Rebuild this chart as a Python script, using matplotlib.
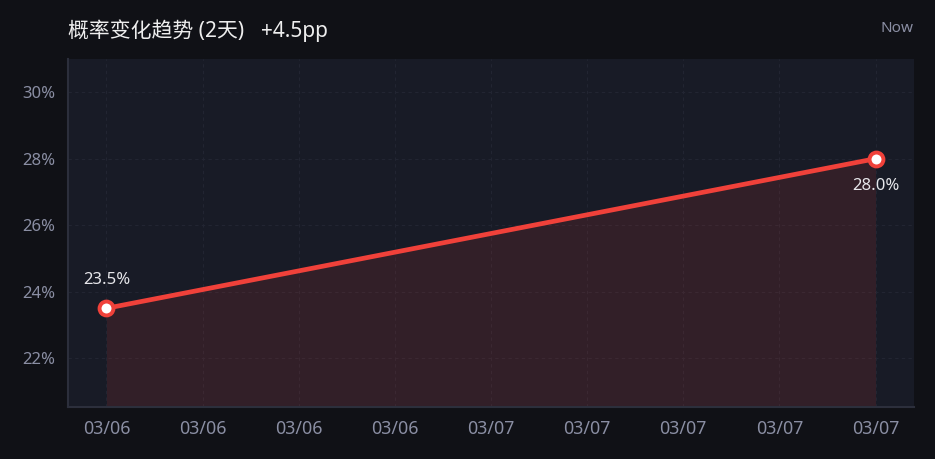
import matplotlib.pyplot as plt

plt.rcParams['font.family'] = ['Noto Sans', 'Noto Sans CJK SC', 'DejaVu Sans']

# data
x_labels = ["03/06", "03/06", "03/06", "03/06", "03/07", "03/07", "03/07", "03/07", "03/07"]
point_idx = [0, 8]
prob = [23.5, 28.0]
y_ticks = [22, 24, 26, 28, 30]

bg = "#101116"
panel = "#181b26"
red = "#f0413a"
grey = "#8a8ea3"


def main():
    fig = plt.figure(figsize=(9.35, 4.59), dpi=100, facecolor=bg)
    ax = fig.add_axes([68 / 935, 1 - 407 / 459, (914 - 68) / 935, (407 - 59) / 459])
    ax.set_facecolor(panel)

    ax.fill_between(point_idx, prob, 20.5, color=red, alpha=0.12, linewidth=0)
    ax.plot(point_idx, prob, color=red, linewidth=3.4, solid_capstyle="round",
            marker="o", markersize=10, markerfacecolor="white",
            markeredgecolor=red, markeredgewidth=2.8, zorder=5)

    ax.annotate(f"{prob[0]:.1f}%", (point_idx[0], prob[0]), xytext=(0, 14.5),
                textcoords="offset points", ha="center", va="bottom",
                color="#e6e6ea", fontsize=12)
    ax.annotate(f"{prob[1]:.1f}%", (point_idx[1], prob[1]), xytext=(0, -14),
                textcoords="offset points", ha="center", va="top",
                color="#e6e6ea", fontsize=12)

    ax.set_xlim(-0.4, 8.4)
    ax.set_ylim(20.53, 31.0)
    ax.set_xticks(range(len(x_labels)))
    ax.set_xticklabels(x_labels)
    ax.set_yticks(y_ticks)
    ax.set_yticklabels([f"{v}%" for v in y_ticks])
    ax.tick_params(colors=grey, labelsize=12, length=0, pad=9)
    ax.tick_params(axis="x", labelsize=12.8)

    ax.grid(True, color="#222532", linestyle=(0, (3, 3)), linewidth=0.8)
    ax.set_axisbelow(True)
    for side in ["top", "right"]:
        ax.spines[side].set_visible(False)
    for side in ["left", "bottom"]:
        ax.spines[side].set_color("#2c2f3c")
        ax.spines[side].set_linewidth(1.5)

    fig.text(68 / 935, 1 - 32 / 459, "概率变化趋势 (2天)", color="#eeeeee",
             fontsize=15, va="center", ha="left")
    fig.text(261 / 935, 1 - 32 / 459, "+4.5pp", color="#eeeeee",
             fontsize=15, va="center", ha="left")
    fig.text(913 / 935, 1 - 28 / 459, "Now", color=grey,
             fontsize=11, va="center", ha="right")

    fig.savefig("out.png", dpi=100, facecolor=bg)


if __name__ == '__main__':
    main()
